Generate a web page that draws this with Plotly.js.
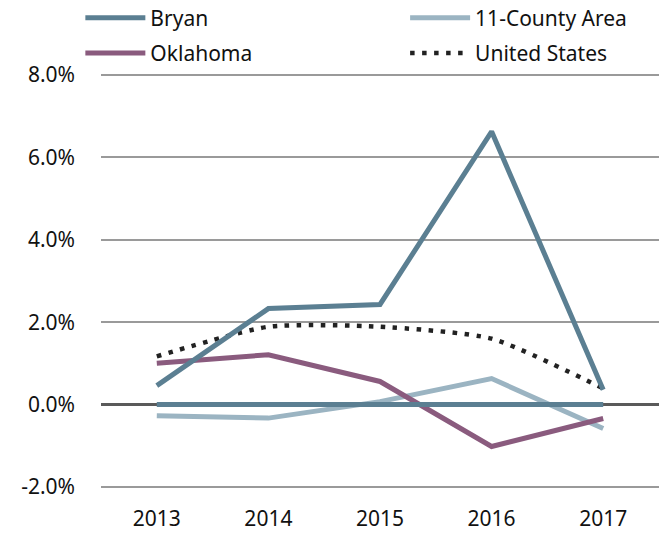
<!DOCTYPE html>
<html>
<head>
<meta charset="utf-8">
<script src="https://cdn.plot.ly/plotly-3.0.1.min.js"></script>
<style>html,body{margin:0;padding:0;background:#fff;}#chart{width:666px;height:533px;}</style>
</head>
<body>
<div id="chart"></div>
<script>
const years = ["2013", "2014", "2015", "2016", "2017"];
const bryan = [0.46, 2.33, 2.43, 6.63, 0.36];
const countyArea = [-0.27, -0.33, 0.07, 0.63, -0.58];
const oklahoma = [1.0, 1.21, 0.56, -1.02, -0.34];
const unitedStates = [1.17, 1.89, 1.89, 1.6, 0.39];
const bryanBase = [0, 0, 0, 0, 0];
const yTicks = [-2, 0, 2, 4, 6, 8];
const yTickLabels = ["-2.0%", "0.0%", "2.0%", "4.0%", "6.0%", "8.0%"];

const FONT = "Noto Sans, sans-serif";
const FS = 21;
const cBryan = "#5b7f92", cCounty = "#9bb4c2", cOk = "#8a5b7e", cUS = "#222222";

const traces = [
  {x: years, y: countyArea, name: "11-County Area", type: "scatter", mode: "lines",
   line: {color: cCounty, width: 5}, legend: "legend2", legendgroup: "c", legendrank: 1},
  {x: years, y: oklahoma, name: "Oklahoma", type: "scatter", mode: "lines",
   line: {color: cOk, width: 5}, legend: "legend", legendgroup: "o", legendrank: 2},
  {x: years, y: unitedStates, name: "United States", type: "scatter", mode: "lines",
   line: {color: cUS, width: 4.5, dash: "4.5px,7.5px", shape: "spline", smoothing: 0.6}, legend: "legend2", legendgroup: "u", legendrank: 2},
  {x: years, y: bryan, name: "Bryan", type: "scatter", mode: "lines",
   line: {color: cBryan, width: 5}, legend: "legend", legendgroup: "b", legendrank: 1},
  {x: years, y: bryanBase, name: "Bryan base", type: "scatter", mode: "lines",
   line: {color: cBryan, width: 5}, showlegend: false}
];

const legendCommon = {
  orientation: "v", bgcolor: "rgba(0,0,0,0)", font: {family: FONT, size: FS, color: "#111"},
  itemwidth: 60, tracegroupgap: 5, traceorder: "grouped", xanchor: "left", yanchor: "top"
};

const layout = {
  width: 666, height: 533,
  margin: {l: 101, r: 7, t: 71, b: 42, autoexpand: false},
  paper_bgcolor: "#fff", plot_bgcolor: "#fff",
  font: {family: FONT, size: FS, color: "#111"},
  showlegend: true,
  legend: Object.assign({}, legendCommon, {x: -0.037, y: 1.175}),
  legend2: Object.assign({}, legendCommon, {x: 0.545, y: 1.175}),
  xaxis: {type: "category", range: [-0.5, 4.5], showgrid: false, zeroline: false, showline: false,
          ticks: "", tickfont: {family: FONT, size: FS}, ticklabelstandoff: 13},
  yaxis: {range: [-2.1, 8.1], tickmode: "array", tickvals: yTicks, ticktext: yTickLabels,
          showgrid: true, gridcolor: "#9a9a9a", gridwidth: 2,
          zeroline: true, zerolinecolor: "#5a5a5a", zerolinewidth: 3,
          showline: false, ticks: "", tickfont: {family: FONT, size: FS}, ticklabelstandoff: 25}
};

Plotly.newPlot("chart", traces, layout, {displayModeBar: false, staticPlot: true});
</script>
</body>
</html>
